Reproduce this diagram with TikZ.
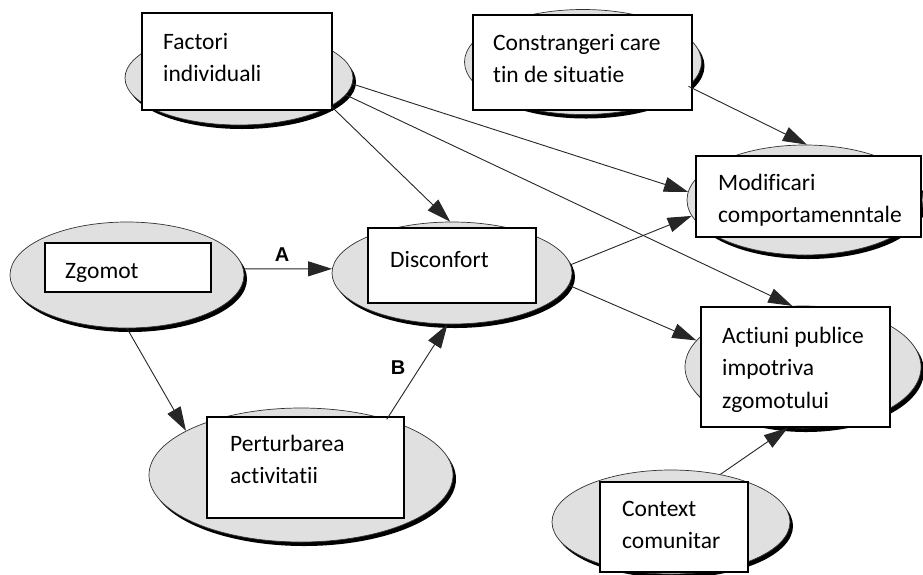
\documentclass[tikz,border=0pt]{standalone}
\usepackage{fontspec}
\setmainfont{Carlito}[RawFeature={-liga;-clig}]
\newfontfamily\labfont{Liberation Sans}
\usetikzlibrary{shapes.geometric,arrows.meta}
\newcommand{\ellnode}[5]{%
  \node[shad,minimum width=#4pt,minimum height=#5pt] (#1s) at (#2+3,#3+4) {};
  \node[ell,minimum width=#4pt,minimum height=#5pt] (#1) at (#2,#3) {};}
\begin{document}
\begin{tikzpicture}[x=1pt,y=-1pt,
  ell/.style={ellipse, draw=black!80, line width=0.7pt, fill=black!12, inner sep=0pt},
  shad/.style={ellipse, fill=black, inner sep=0pt},
  box/.style={draw=black, line width=1.3pt, fill=white},
  txt/.style={anchor=base west, inner sep=0pt, font=\fontsize{23.5}{32.5}\selectfont},
  arr/.style={draw=black!85, line width=0.9pt, -{Triangle[length=24pt,width=15pt]}},
  lab/.style={font=\labfont\bfseries\fontsize{20}{20}\selectfont}]
\useasboundingbox[fill=white] (0,0) rectangle (923,574);

% ellipses
\ellnode{fi}{239}{78}{228}{94}
\ellnode{con}{583}{62}{237}{105}
\ellnode{mod}{805}{200}{236}{110}
\ellnode{dis}{452}{273}{240}{102}
\ellnode{zg}{127}{275}{234}{106}
\ellnode{per}{301}{475}{304}{134}
\ellnode{act}{803}{367}{236}{122}
\ellnode{ctx}{671}{522}{238}{104}

% boxes
\draw[box] (142,13) rectangle (332,110);
\draw[box] (473,15) rectangle (692,110);
\draw[box] (696,156) rectangle (921,237);
\draw[box] (368,228) rectangle (536,303);
\draw[box] (45,243) rectangle (211,292);
\draw[box] (207,417) rectangle (404,518);
\draw[box] (701,307) rectangle (890,427);
\draw[box] (600,482) rectangle (748,572);

% texts
\node[txt] (tfi) at (163,49) {\vtop{\hbox{Factori}\hbox{individuali}}};
\node[txt] (tcon) at (493,50) {\vtop{\hbox{Constrangeri care}\hbox{tin de situatie}}};
\node[txt] (tmod) at (718,190) {\vtop{\hbox{Modificari}\hbox{comportamenntale}}};
\node[txt] (tdis) at (390,267) {Disconfort};
\node[txt] (tzg) at (65,278) {Zgomot};
\node[txt] (tper) at (230,451) {\vtop{\hbox{Perturbarea}\hbox{activitatii}}};
\node[txt] (tact) at (722,343) {\vtop{\hbox{Actiuni publice}\hbox{impotriva}\hbox{zgomotului}}};
\node[txt] (tctx) at (622,516) {\vtop{\hbox{Context}\hbox{comunitar}}};

% connectors
\draw[arr] (zg.3) -- (dis.178);
\draw[arr] (zg.south) -- (per.159);
\draw[arr] (per.33) -- (dis.-95);
\draw[arr] (fi.-17) -- (dis.92);
\draw[arr] (fi.-3) -- (mod.176);
\draw[arr] (fi.-9) -- (act.100);
\draw[arr] (dis.4) -- (mod.188);
\draw[arr] (dis.-6) -- (act.166);
\draw[arr] (con.-13) -- (mod.88);
\draw[arr] (ctx.44) -- (act.256);

\node[lab] (la) at (282,255) {A};
\node[lab] (lb) at (398,368) {B};
\end{tikzpicture}
\end{document}
